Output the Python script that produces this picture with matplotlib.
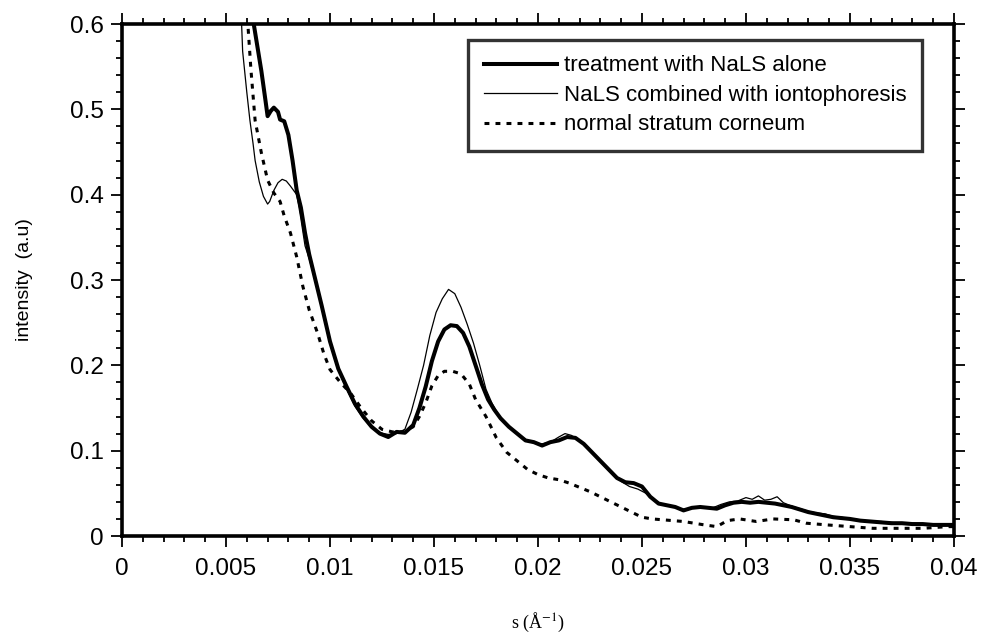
import matplotlib
matplotlib.use("Agg")
import matplotlib.pyplot as plt
from matplotlib import ticker

# ---------------- data ----------------
x_alone = [0.0062, 0.0065, 0.0067, 0.0069, 0.0070, 0.00715, 0.0073, 0.0075, 0.0076, 0.0078,
           0.0080, 0.0082, 0.0084, 0.0086, 0.0088, 0.0090, 0.0093, 0.0096, 0.0100, 0.0104,
           0.0108, 0.0112, 0.0116, 0.0120, 0.0124, 0.0128, 0.0132, 0.0136, 0.0140, 0.0143,
           0.0146, 0.0149, 0.0152, 0.0155, 0.0158, 0.0161, 0.0164, 0.0167, 0.0170, 0.0173,
           0.0176, 0.0179, 0.0182, 0.0186, 0.0190, 0.0194, 0.0198, 0.0202, 0.0206, 0.0210,
           0.0214, 0.0218, 0.0222, 0.0226, 0.0230, 0.0234, 0.0238, 0.0242, 0.0246, 0.0250,
           0.0254, 0.0258, 0.0262, 0.0266, 0.0270, 0.0274, 0.0278, 0.0282, 0.0286, 0.0290,
           0.0294, 0.0298, 0.0302, 0.0306, 0.0310, 0.0314, 0.0318, 0.0322, 0.0326, 0.0330,
           0.0334, 0.0338, 0.0342, 0.0346, 0.0350, 0.0355, 0.0360, 0.0365, 0.0370, 0.0375,
           0.0380, 0.0385, 0.0390, 0.0395, 0.0400]
y_alone = [0.620, 0.575, 0.545, 0.510, 0.492, 0.498, 0.502, 0.497, 0.488, 0.486,
           0.470, 0.440, 0.405, 0.385, 0.355, 0.330, 0.300, 0.270, 0.228, 0.196,
           0.175, 0.155, 0.140, 0.128, 0.120, 0.116, 0.122, 0.121, 0.130, 0.150,
           0.175, 0.205, 0.228, 0.242, 0.247, 0.246, 0.238, 0.222, 0.200, 0.178,
           0.160, 0.148, 0.138, 0.128, 0.120, 0.112, 0.110, 0.106, 0.110, 0.112,
           0.116, 0.115, 0.108, 0.098, 0.088, 0.078, 0.068, 0.063, 0.062, 0.058,
           0.046, 0.038, 0.036, 0.034, 0.030, 0.033, 0.034, 0.033, 0.032, 0.036,
           0.039, 0.040, 0.039, 0.040, 0.039, 0.038, 0.036, 0.034, 0.031, 0.028,
           0.026, 0.024, 0.022, 0.021, 0.020, 0.018, 0.017, 0.016, 0.015, 0.015,
           0.014, 0.014, 0.013, 0.013, 0.013]

x_ionto = [0.0057, 0.00575, 0.0058, 0.0060, 0.00615, 0.0063, 0.0064, 0.0066, 0.0068, 0.0070,
           0.0071, 0.0073, 0.0075, 0.0077, 0.0079, 0.0081, 0.0084, 0.0086, 0.0088, 0.0090,
           0.0093, 0.0096, 0.0100, 0.0104, 0.0108, 0.0112, 0.0116, 0.0120, 0.0124, 0.0128,
           0.0132, 0.0136, 0.0139, 0.0142, 0.0145, 0.0148, 0.0151, 0.0154, 0.0157, 0.0160,
           0.0163, 0.0166, 0.0169, 0.0172, 0.0175, 0.0178, 0.0182, 0.0186, 0.0190, 0.0194,
           0.0198, 0.0202, 0.0206, 0.0210, 0.0213, 0.0216, 0.0220, 0.0224, 0.0228, 0.0232,
           0.0236, 0.0240, 0.0244, 0.0248, 0.0252, 0.0256, 0.0260, 0.0264, 0.0268, 0.0272,
           0.0276, 0.0280, 0.0284, 0.0288, 0.0292, 0.0296, 0.0300, 0.0303, 0.0306, 0.0309,
           0.0312, 0.0315, 0.0318, 0.0322, 0.0326, 0.0330, 0.0334, 0.0338, 0.0342, 0.0346,
           0.0350, 0.0355, 0.0360, 0.0365, 0.0370, 0.0375, 0.0380, 0.0385, 0.0390, 0.0395,
           0.0400]
y_ionto = [0.620, 0.600, 0.568, 0.520, 0.487, 0.460, 0.440, 0.415, 0.398, 0.389,
           0.392, 0.405, 0.414, 0.418, 0.416, 0.410, 0.400, 0.372, 0.340, 0.325,
           0.298, 0.268, 0.226, 0.194, 0.172, 0.152, 0.138, 0.127, 0.121, 0.119,
           0.120, 0.125, 0.145, 0.172, 0.200, 0.235, 0.262, 0.278, 0.289, 0.284,
           0.268, 0.248, 0.226, 0.200, 0.172, 0.155, 0.138, 0.128, 0.119, 0.113,
           0.109, 0.108, 0.110, 0.116, 0.120, 0.118, 0.112, 0.102, 0.092, 0.082,
           0.072, 0.064, 0.058, 0.055, 0.050, 0.042, 0.037, 0.035, 0.032, 0.031,
           0.034, 0.033, 0.033, 0.037, 0.040, 0.041, 0.045, 0.043, 0.047, 0.042,
           0.043, 0.046, 0.039, 0.035, 0.032, 0.029, 0.027, 0.026, 0.023, 0.022,
           0.020, 0.019, 0.017, 0.017, 0.016, 0.014, 0.015, 0.014, 0.014, 0.013,
           0.012]

x_normal = [0.0060, 0.00605, 0.0062, 0.0064, 0.0067, 0.0070, 0.0073, 0.0076, 0.0078, 0.0081,
            0.0084, 0.0087, 0.0090, 0.0094, 0.0097, 0.0100, 0.0105, 0.0110, 0.0115, 0.0120,
            0.0125, 0.0130, 0.0135, 0.0140, 0.0143, 0.0146, 0.0149, 0.0152, 0.0155, 0.0159,
            0.0163, 0.0167, 0.0170, 0.0175, 0.0180, 0.0185, 0.0190, 0.0195, 0.0200, 0.0205,
            0.0210, 0.0215, 0.0220, 0.0225, 0.0230, 0.0235, 0.0240, 0.0245, 0.0250, 0.0255,
            0.0260, 0.0265, 0.0270, 0.0275, 0.0280, 0.0286, 0.0291, 0.0297, 0.0305, 0.0313,
            0.0323, 0.0329, 0.0339, 0.0350, 0.0361, 0.0373, 0.0385, 0.0397, 0.0400]
y_normal = [0.620, 0.600, 0.546, 0.487, 0.449, 0.417, 0.402, 0.392, 0.375, 0.355,
            0.327, 0.292, 0.265, 0.238, 0.214, 0.195, 0.180, 0.167, 0.150, 0.135,
            0.125, 0.122, 0.122, 0.128, 0.140, 0.156, 0.176, 0.188, 0.193, 0.193,
            0.190, 0.178, 0.160, 0.140, 0.115, 0.098, 0.088, 0.078, 0.072, 0.068,
            0.066, 0.062, 0.057, 0.052, 0.046, 0.040, 0.034, 0.028, 0.022, 0.020,
            0.019, 0.018, 0.017, 0.015, 0.013, 0.011, 0.018, 0.020, 0.017, 0.020,
            0.019, 0.015, 0.013, 0.011, 0.009, 0.009, 0.009, 0.011, 0.011]

labels = ["treatment with NaLS alone",
          "NaLS combined with iontophoresis",
          "normal stratum corneum"]

# ---------------- figure ----------------
plt.rcParams['font.family'] = ['Liberation Sans', 'DejaVu Sans']
plt.rcParams['mathtext.fontset'] = 'stix'

fig = plt.figure(figsize=(9.88, 6.35), dpi=100)
ax = fig.add_axes([0.1235, 0.1559, 0.842, 0.8063])

ax.plot(x_alone, y_alone, color='black', lw=2.9, label=labels[0], solid_joinstyle='round')
ax.plot(x_ionto, y_ionto, color='black', lw=0.9, label=labels[1])
ax.plot(x_normal, y_normal, color='black', lw=2.2, linestyle=(0, (1.6, 2.0)), label=labels[2])

ax.set_xlim(0, 0.04)
ax.set_ylim(0, 0.6)

ax.xaxis.set_major_locator(ticker.MultipleLocator(0.005))
ax.xaxis.set_minor_locator(ticker.MultipleLocator(0.001))
ax.yaxis.set_major_locator(ticker.MultipleLocator(0.1))
ax.yaxis.set_minor_locator(ticker.MultipleLocator(0.02))
fmt = ticker.FuncFormatter(lambda v, _: "0" if abs(v) < 1e-12 else f"{v:g}")
ax.xaxis.set_major_formatter(fmt)
ax.yaxis.set_major_formatter(fmt)

ax.tick_params(which='both', direction='out', top=True, right=True, width=1.3, colors='black')
ax.tick_params(which='major', length=8)
ax.tick_params(which='minor', length=4)
ax.tick_params(axis='x', which='major', labelsize=17.5, pad=8)
ax.tick_params(axis='y', which='major', labelsize=17.5, pad=5)

for s in ax.spines.values():
    s.set_linewidth(2.6)

ax.set_ylabel("intensity  (a.u)", fontsize=14, labelpad=27)
ax.set_xlabel("s (Å$^{-1}$)", fontsize=13, family='Liberation Serif', labelpad=22)

leg = ax.legend(loc='upper right', bbox_to_anchor=(0.9615, 0.969), fontsize=16,
                frameon=True, fancybox=False, edgecolor='black', handlelength=3.3,
                handletextpad=0.3, labelspacing=0.38, borderpad=0.7, borderaxespad=0)
leg.get_frame().set_linewidth(2.4)

fig.savefig("out.png", dpi=100)
